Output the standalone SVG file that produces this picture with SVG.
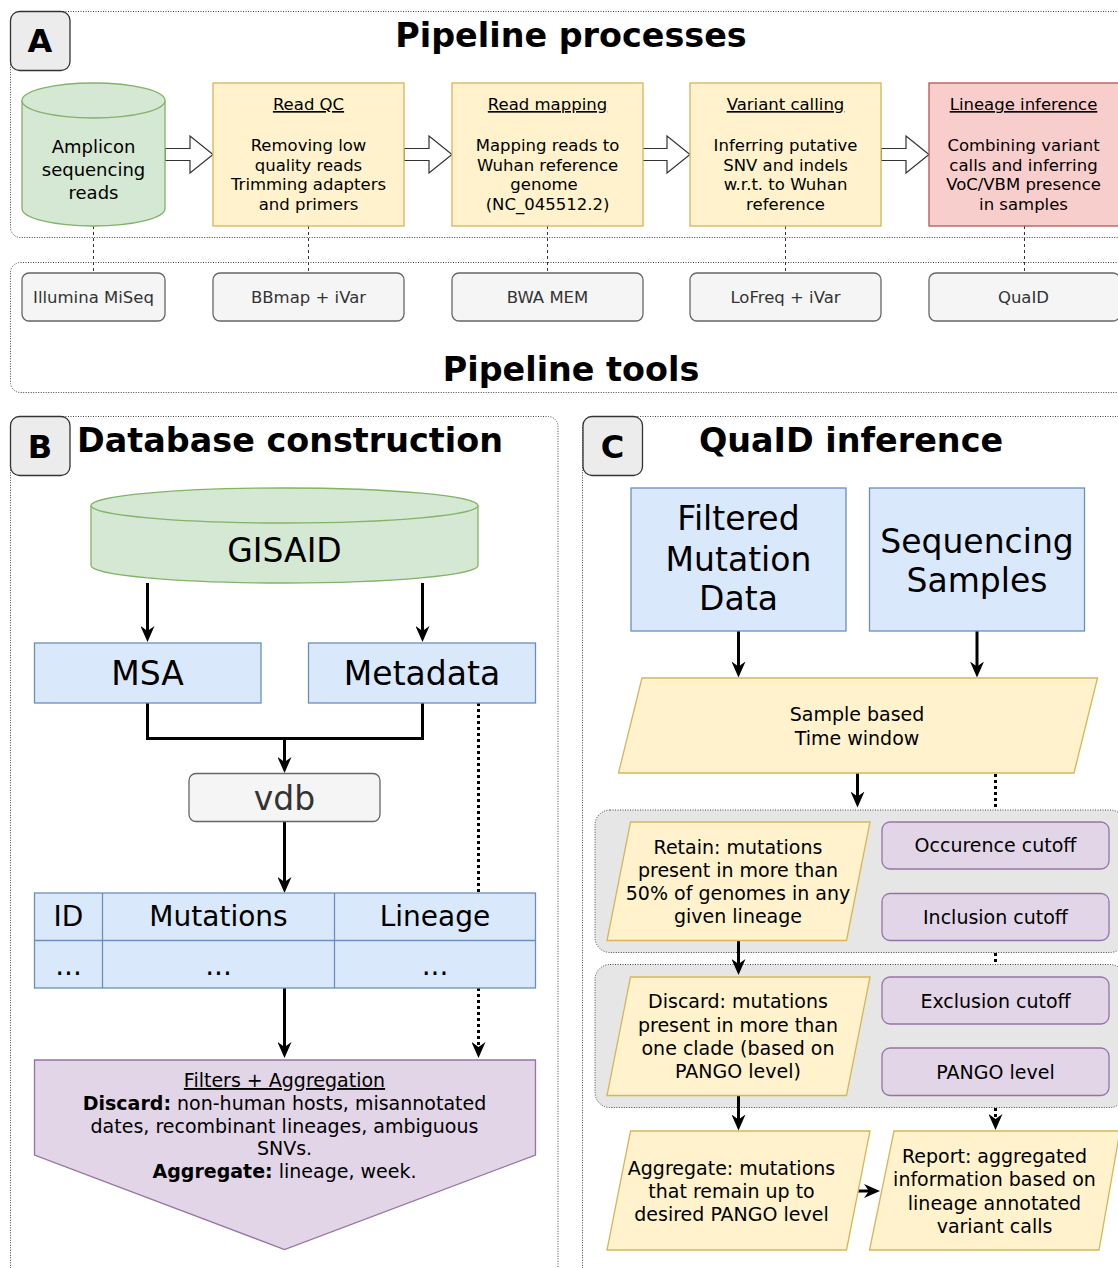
<svg xmlns="http://www.w3.org/2000/svg" width="1118" height="1268" viewBox="0 0 1118 1268">
  <defs>
    <style>
      text { font-family: "DejaVu Sans", "Liberation Sans", sans-serif; fill: #000; }
      .frame { fill: none; stroke: #444; stroke-width: 1; stroke-dasharray: 1 1.5; }
      .group { fill: #e6e6e6; stroke: #444; stroke-width: 1; stroke-dasharray: 1 1.5; }
      .tag { fill: #ececec; stroke: #333; stroke-width: 1.3; }
      .tag-t { font-size: 32px; font-weight: bold; text-anchor: middle; }
      .title { font-size: 33.4px; font-weight: bold; text-anchor: middle; }
      .proc { fill: #fff2cc; stroke: #d6b656; stroke-width: 1.3; }
      .red { fill: #f8cecc; stroke: #b85450; stroke-width: 1.3; }
      .db { fill: #d5e8d4; stroke: #82b366; stroke-width: 1.3; }
      .blue { fill: #dae8fc; stroke: #6c8ebf; stroke-width: 1.3; }
      .tool { fill: #f5f5f5; stroke: #666; stroke-width: 1.3; }
      .purple { fill: #e1d5e7; stroke: #9673a6; stroke-width: 1.3; }
      .t16 { font-size: 16.5px; text-anchor: middle; }
      .t18 { font-size: 18px; text-anchor: middle; }
      .t19 { font-size: 19px; text-anchor: middle; }
      .t28 { font-size: 28px; text-anchor: middle; }
      .t33 { font-size: 33px; text-anchor: middle; }
      .grey-t { fill: #333; }
      .u { text-decoration: underline; }
      .hollow { fill: #fff; stroke: #333; stroke-width: 1.2; }
      .dash { fill: none; stroke: #333; stroke-width: 1; stroke-dasharray: 3 3; }
      .edge { fill: none; stroke: #000; stroke-width: 3; }
      .dot { fill: none; stroke: #000; stroke-width: 3; stroke-dasharray: 3 3; }
    </style>
    <marker id="ah" viewBox="0 0 16 14" markerWidth="16" markerHeight="14" refX="10" refY="7" orient="auto" markerUnits="userSpaceOnUse">
      <path d="M0,0 L16,7 L0,14 L5,7 Z" fill="#000"/>
    </marker>
  </defs>

  <!-- Panel frames -->
  <rect class="frame" x="10.5" y="11.5" width="1130" height="226" rx="10"/>
  <rect class="frame" x="10.5" y="262.5" width="1130" height="130" rx="10"/>
  <rect class="frame" x="10.5" y="416.5" width="547.5" height="880" rx="10"/>
  <rect class="frame" x="582.5" y="416.5" width="560" height="880" rx="10"/>

  <!-- Panel A: pipeline -->
  <g id="tagA">
    <rect class="tag" x="10.5" y="11.5" width="59.5" height="59" rx="9"/>
    <text class="tag-t" x="40" y="52">A</text>
  </g>
  <text class="title" x="571" y="47">Pipeline processes</text>
  <text class="title" x="571" y="381">Pipeline tools</text>

  <g id="connectors-a">
    <polygon class="hollow" points="165,148.5 190,148.5 190,136 213,154.5 190,173 190,160.5 165,160.5"/>
    <polygon class="hollow" points="404,148.5 429,148.5 429,136 452,154.5 429,173 429,160.5 404,160.5"/>
    <polygon class="hollow" points="642,148.5 667,148.5 667,136 690,154.5 667,173 667,160.5 642,160.5"/>
    <polygon class="hollow" points="881,148.5 906,148.5 906,136 929,154.5 906,173 906,160.5 881,160.5"/>
    <line class="dash" x1="93.5" y1="226" x2="93.5" y2="273"/>
    <line class="dash" x1="308.5" y1="226" x2="308.5" y2="273"/>
    <line class="dash" x1="547.5" y1="226" x2="547.5" y2="273"/>
    <line class="dash" x1="785.5" y1="226" x2="785.5" y2="273"/>
    <line class="dash" x1="1024.5" y1="226" x2="1024.5" y2="273"/>
  </g>

  <g id="reads">
    <path class="db" d="M22,100.5 A71.5,17.5 0 0 1 165,100.5 L165,208.5 A71.5,17.5 0 0 1 22,208.5 Z"/>
    <path class="db" d="M22,100.5 A71.5,17.5 0 0 0 165,100.5"/>
    <text class="t18" x="93.5" y="153">Amplicon</text>
    <text class="t18" x="93.5" y="176">sequencing</text>
    <text class="t18" x="93.5" y="199">reads</text>
  </g>
  <g id="read-qc">
    <rect class="proc" x="213" y="83" width="191" height="143"/>
    <text class="t16" x="308.5" y="110"><tspan class="u">Read QC</tspan></text>
    <text class="t16" x="308.5" y="151">Removing low</text>
    <text class="t16" x="308.5" y="170.7">quality reads</text>
    <text class="t16" x="308.5" y="190.4">Trimming adapters</text>
    <text class="t16" x="308.5" y="210">and primers</text>
  </g>
  <g id="read-mapping">
    <rect class="proc" x="452" y="83" width="191" height="143"/>
    <text class="t16" x="547.5" y="110"><tspan class="u">Read mapping</tspan></text>
    <text class="t16" x="547.5" y="151">Mapping reads to</text>
    <text class="t16" x="547.5" y="170.7">Wuhan reference</text>
    <text class="t16" x="544" y="190.4">genome</text>
    <text class="t16" x="547.5" y="210">(NC_045512.2)</text>
  </g>
  <g id="variant-calling">
    <rect class="proc" x="690" y="83" width="191" height="143"/>
    <text class="t16" x="785.5" y="110"><tspan class="u">Variant calling</tspan></text>
    <text class="t16" x="785.5" y="151">Inferring putative</text>
    <text class="t16" x="785.5" y="170.7">SNV and indels</text>
    <text class="t16" x="785.5" y="190.4">w.r.t. to Wuhan</text>
    <text class="t16" x="785.5" y="210">reference</text>
  </g>
  <g id="lineage-inference">
    <rect class="red" x="929" y="83" width="191" height="143"/>
    <text class="t16" x="1023.5" y="110"><tspan class="u">Lineage inference</tspan></text>
    <text class="t16" x="1023.5" y="151">Combining variant</text>
    <text class="t16" x="1023.5" y="170.7">calls and inferring</text>
    <text class="t16" x="1023.5" y="190.4">VoC/VBM presence</text>
    <text class="t16" x="1023.5" y="210">in samples</text>
  </g>

  <g id="tool-miseq">
    <rect class="tool" x="22" y="273" width="143" height="48" rx="7"/>
    <text class="t16 grey-t" x="93.5" y="303">Illumina MiSeq</text>
  </g>
  <g id="tool-bbmap">
    <rect class="tool" x="213" y="273" width="191" height="48" rx="7"/>
    <text class="t16 grey-t" x="308.5" y="303">BBmap + iVar</text>
  </g>
  <g id="tool-bwa">
    <rect class="tool" x="452" y="273" width="191" height="48" rx="7"/>
    <text class="t16 grey-t" x="547.5" y="303">BWA MEM</text>
  </g>
  <g id="tool-lofreq">
    <rect class="tool" x="690" y="273" width="191" height="48" rx="7"/>
    <text class="t16 grey-t" x="785.5" y="303">LoFreq + iVar</text>
  </g>
  <g id="tool-quaid">
    <rect class="tool" x="929" y="273" width="191" height="48" rx="7"/>
    <text class="t16 grey-t" x="1023.5" y="303">QuaID</text>
  </g>

  <!-- Panel B: database construction -->
  <g id="tagB">
    <rect class="tag" x="10.5" y="416.5" width="59.5" height="59" rx="9"/>
    <text class="tag-t" x="40" y="458">B</text>
  </g>
  <text class="title" x="290" y="452">Database construction</text>

  <g id="connectors-b">
    <line class="edge" x1="147.5" y1="583" x2="147.5" y2="636" marker-end="url(#ah)"/>
    <line class="edge" x1="422.5" y1="583" x2="422.5" y2="636" marker-end="url(#ah)"/>
    <polyline class="edge" points="147.5,703 147.5,738.5 422.5,738.5 422.5,703"/>
    <line class="edge" x1="284.5" y1="738.5" x2="284.5" y2="767" marker-end="url(#ah)"/>
    <line class="edge" x1="284.5" y1="822" x2="284.5" y2="887" marker-end="url(#ah)"/>
    <line class="edge" x1="284.5" y1="988" x2="284.5" y2="1052" marker-end="url(#ah)"/>
    <line class="dot" x1="478.5" y1="703" x2="478.5" y2="893"/>
    <line class="dot" x1="478.5" y1="988" x2="478.5" y2="1052" marker-end="url(#ah)"/>
  </g>

  <g id="gisaid">
    <path class="db" d="M91,505.5 A193.5,17.5 0 0 1 478,505.5 L478,565.5 A193.5,17.5 0 0 1 91,565.5 Z"/>
    <path class="db" d="M91,505.5 A193.5,17.5 0 0 0 478,505.5"/>
    <text class="t33" x="284.5" y="562">GISAID</text>
  </g>
  <g id="msa">
    <rect class="blue" x="34.5" y="643" width="226.5" height="60"/>
    <text class="t33" x="147.5" y="685">MSA</text>
  </g>
  <g id="metadata">
    <rect class="blue" x="308.5" y="643" width="227" height="60"/>
    <text class="t33" x="422" y="685">Metadata</text>
  </g>
  <g id="vdb">
    <rect class="tool" x="189" y="773.5" width="191" height="48" rx="7"/>
    <text class="t33 grey-t" x="284.5" y="810">vdb</text>
  </g>
  <g id="mutation-table">
    <rect class="blue" x="34.5" y="893" width="501" height="95"/>
    <line x1="34.5" y1="940.5" x2="535.5" y2="940.5" stroke="#6c8ebf" stroke-width="1.3"/>
    <line x1="102.5" y1="893" x2="102.5" y2="988" stroke="#6c8ebf" stroke-width="1.3"/>
    <line x1="334.5" y1="893" x2="334.5" y2="988" stroke="#6c8ebf" stroke-width="1.3"/>
    <text class="t28" x="68.5" y="926">ID</text>
    <text class="t28" x="218.5" y="926">Mutations</text>
    <text class="t28" x="435" y="926">Lineage</text>
    <text class="t28" x="68.5" y="975">...</text>
    <text class="t28" x="218.5" y="975">...</text>
    <text class="t28" x="435" y="975">...</text>
  </g>
  <g id="filters">
    <polygon class="purple" points="34.5,1060 535.5,1060 535.5,1155 284.5,1249.5 34.5,1155"/>
    <text class="t19" x="284.5" y="1087"><tspan class="u">Filters + Aggregation</tspan></text>
    <text class="t19" x="284.5" y="1110"><tspan font-weight="bold">Discard:</tspan> non-human hosts, misannotated</text>
    <text class="t19" x="284.5" y="1133">dates, recombinant lineages, ambiguous</text>
    <text class="t19" x="284.5" y="1155">SNVs.</text>
    <text class="t19" x="284.5" y="1178"><tspan font-weight="bold">Aggregate:</tspan> lineage, week.</text>
  </g>

  <!-- Panel C: QuaID inference -->
  <g id="tagC">
    <rect class="tag" x="583" y="416.5" width="59.5" height="59" rx="9"/>
    <text class="tag-t" x="612.5" y="458">C</text>
  </g>
  <text class="title" x="851" y="452">QuaID inference</text>

  <rect class="group" x="595" y="810" width="530" height="142.5" rx="15"/>
  <rect class="group" x="595" y="964.5" width="530" height="143" rx="15"/>

  <g id="connectors-c">
    <line class="edge" x1="738.5" y1="631" x2="738.5" y2="671.5" marker-end="url(#ah)"/>
    <line class="edge" x1="977" y1="631" x2="977" y2="671.5" marker-end="url(#ah)"/>
    <line class="edge" x1="857.5" y1="773" x2="857.5" y2="801.5" marker-end="url(#ah)"/>
    <line class="dot" x1="995.5" y1="774" x2="995.5" y2="808"/>
    <line class="edge" x1="738.5" y1="941" x2="738.5" y2="969" marker-end="url(#ah)"/>
    <line class="dot" x1="995.5" y1="953" x2="995.5" y2="965"/>
    <line class="edge" x1="738.5" y1="1096" x2="738.5" y2="1124.5" marker-end="url(#ah)"/>
    <line class="dot" x1="995.5" y1="1108" x2="995.5" y2="1124" marker-end="url(#ah)"/>
    <line class="edge" x1="858" y1="1191" x2="874" y2="1191" marker-end="url(#ah)"/>
  </g>

  <g id="filtered-data">
    <rect class="blue" x="631" y="488" width="215" height="143"/>
    <text class="t33" x="738.5" y="530">Filtered</text>
    <text class="t33" x="738.5" y="571">Mutation</text>
    <text class="t33" x="738.5" y="610">Data</text>
  </g>
  <g id="samples">
    <rect class="blue" x="869.5" y="488" width="215" height="143"/>
    <text class="t33" x="977" y="553">Sequencing</text>
    <text class="t33" x="977" y="592">Samples</text>
  </g>
  <g id="time-window">
    <polygon class="proc" points="642,678 1097.5,678 1074,773 618.5,773"/>
    <text class="t19" x="857" y="721">Sample based</text>
    <text class="t19" x="857" y="745">Time window</text>
  </g>
  <g id="retain">
    <polygon class="proc" points="630.5,822 870,822 846.5,940.5 607,940.5"/>
    <text class="t19" x="738" y="853.5">Retain: mutations</text>
    <text class="t19" x="738" y="876.8">present in more than</text>
    <text class="t19" x="738" y="900.1">50% of genomes in any</text>
    <text class="t19" x="738" y="923.4">given lineage</text>
  </g>
  <g id="occurence">
    <rect class="purple" x="882" y="822" width="227" height="47" rx="8"/>
    <text class="t19" x="995.5" y="852">Occurence cutoff</text>
  </g>
  <g id="inclusion">
    <rect class="purple" x="882" y="893.5" width="227" height="47" rx="8"/>
    <text class="t19" x="995.5" y="923.5">Inclusion cutoff</text>
  </g>
  <g id="discard">
    <polygon class="proc" points="630.5,977 870,977 846.5,1095.5 607,1095.5"/>
    <text class="t19" x="738" y="1008.3">Discard: mutations</text>
    <text class="t19" x="738" y="1031.6">present in more than</text>
    <text class="t19" x="738" y="1054.9">one clade (based on</text>
    <text class="t19" x="738" y="1078.2">PANGO level)</text>
  </g>
  <g id="exclusion">
    <rect class="purple" x="882" y="977" width="227" height="47" rx="8"/>
    <text class="t19" x="995.5" y="1007.5">Exclusion cutoff</text>
  </g>
  <g id="pango">
    <rect class="purple" x="882" y="1048" width="227" height="47.5" rx="8"/>
    <text class="t19" x="995.5" y="1078.5">PANGO level</text>
  </g>
  <g id="aggregate">
    <polygon class="proc" points="630.5,1131 870,1131 846.5,1250 607,1250"/>
    <text class="t19" x="731.5" y="1175">Aggregate: mutations</text>
    <text class="t19" x="731.5" y="1198">that remain up to</text>
    <text class="t19" x="731.5" y="1220.5">desired PANGO level</text>
  </g>
  <g id="report">
    <polygon class="proc" points="894,1131 1120,1131 1099,1250 869.5,1250"/>
    <text class="t19" x="994.5" y="1163">Report: aggregated</text>
    <text class="t19" x="994.5" y="1186.3">information based on</text>
    <text class="t19" x="994.5" y="1209.6">lineage annotated</text>
    <text class="t19" x="994.5" y="1232.5">variant calls</text>
  </g>
</svg>
